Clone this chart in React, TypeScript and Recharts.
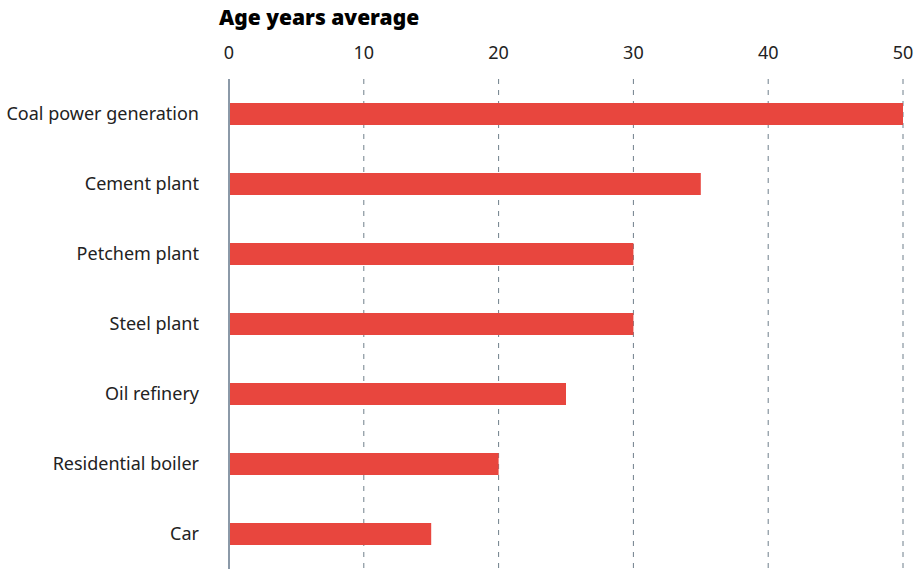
import React from 'react'
import { BarChart, Bar, XAxis, YAxis, CartesianGrid, ReferenceLine } from 'recharts'

const categories = [
  'Coal power generation',
  'Cement plant',
  'Petchem plant',
  'Steel plant',
  'Oil refinery',
  'Residential boiler',
  'Car',
]
const ageYears = [50, 35, 30, 30, 25, 20, 15]
const xTicks = [0, 10, 20, 30, 40, 50]

const data = categories.map((name, i) => ({ name, age: ageYears[i] }))

const font = '"Noto Sans", sans-serif'

const App: React.FC = () => {
  return (
    <div style={{ position: 'absolute', left: 0, top: 0, width: 920, height: 569, fontFamily: font }}>
      <div
        style={{
          position: 'absolute',
          left: 219,
          top: 3,
          fontSize: 21,
          fontWeight: 900,
          color: '#000',
        }}
      >
        Age years average
      </div>
      <BarChart
        layout="vertical"
        width={920}
        height={569}
        data={data}
        margin={{ top: 49, right: 17, left: 0, bottom: 0 }}
        barCategoryGap={0}
      >
        <CartesianGrid horizontal={false} stroke="#6f7f8b" strokeDasharray="5 6" />
        <XAxis
          type="number"
          orientation="top"
          domain={[0, 50]}
          ticks={xTicks}
          height={30}
          axisLine={false}
          tickLine={false}
          tickSize={0}
          tickMargin={20}
          tick={{ fill: '#222', fontSize: 18, fontFamily: font }}
        />
        <YAxis
          type="category"
          dataKey="name"
          width={229}
          axisLine={false}
          tickLine={false}
          tickSize={0}
          tickMargin={30}
          tick={{ fill: '#222', fontSize: 18, fontFamily: font }}
        />
        <Bar dataKey="age" fill="#e8463e" barSize={22} isAnimationActive={false} />
        <ReferenceLine x={0} stroke="#8b99a8" strokeWidth={2} />
      </BarChart>
    </div>
  )
}

export default App
